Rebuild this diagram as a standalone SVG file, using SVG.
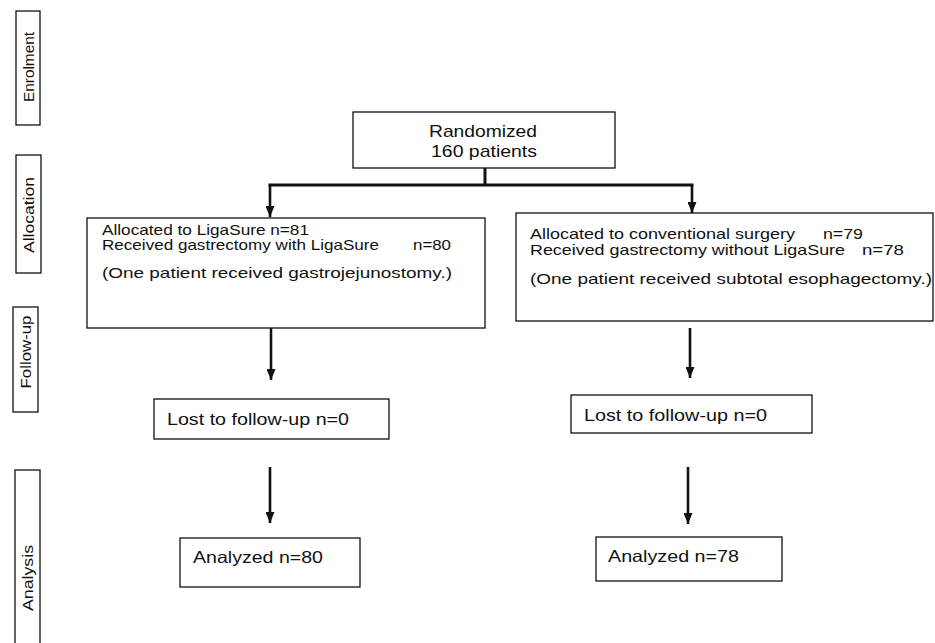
<svg xmlns="http://www.w3.org/2000/svg" width="935" height="643" viewBox="0 0 935 643">
<defs>
<style>
.box{fill:#fff;stroke:#111;stroke-width:1.3}
.t{font-family:"Liberation Sans",Arial,sans-serif;font-size:14.5px;fill:#111}
.mid{font-size:16.5px}
.big{font-size:17px}
.side{font-family:"Liberation Sans",Arial,sans-serif;font-size:15.5px;fill:#111;text-anchor:middle}
.c{stroke:#111;fill:none;stroke-width:2.6}
.cb{stroke:#111;fill:none;stroke-width:3}
</style>
<marker id="ah" markerUnits="userSpaceOnUse" markerWidth="11" markerHeight="9" refX="11" refY="4.5" orient="auto">
<path d="M0,0 L11,4.5 L0,9 z" fill="#111"/>
</marker>
</defs>
<rect width="935" height="643" fill="#fff"/>

<g id="stage-enrolment">
<rect class="box" x="16" y="11" width="24" height="114"/>
<text class="side" transform="translate(34,67) rotate(-90)" textLength="70" lengthAdjust="spacingAndGlyphs">Enrolment</text>
</g>
<g id="stage-allocation">
<rect class="box" x="16" y="155" width="25" height="118"/>
<text class="side" transform="translate(34,215) rotate(-90)" textLength="76" lengthAdjust="spacingAndGlyphs">Allocation</text>
</g>
<g id="stage-followup">
<rect class="box" x="13" y="307" width="25" height="105"/>
<text class="side" transform="translate(31,352) rotate(-90)" textLength="73" lengthAdjust="spacingAndGlyphs">Follow-up</text>
</g>
<g id="stage-analysis">
<rect class="box" x="15" y="470" width="25" height="180"/>
<text class="side" transform="translate(33,578) rotate(-90)" textLength="66" lengthAdjust="spacingAndGlyphs">Analysis</text>
</g>

<g id="randomized">
<rect class="box" x="353" y="112" width="262" height="56"/>
<text class="t big" x="429" y="137" textLength="108" lengthAdjust="spacingAndGlyphs">Randomized</text>
<text class="t big" x="431" y="157" textLength="106" lengthAdjust="spacingAndGlyphs">160 patients</text>
</g>

<g id="alloc-ligasure">
<rect class="box" x="87" y="218" width="398" height="110"/>
<text class="t" x="102" y="235" textLength="207" lengthAdjust="spacingAndGlyphs">Allocated to LigaSure n=81</text>
<text class="t" x="102" y="250" textLength="277" lengthAdjust="spacingAndGlyphs">Received gastrectomy with LigaSure</text>
<text class="t" x="413" y="250" textLength="38" lengthAdjust="spacingAndGlyphs">n=80</text>
<text class="t" x="102" y="278" textLength="350" lengthAdjust="spacingAndGlyphs">(One patient received gastrojejunostomy.)</text>
</g>

<g id="alloc-conventional">
<rect class="box" x="516" y="213" width="417" height="108"/>
<text class="t" x="530" y="239" textLength="265" lengthAdjust="spacingAndGlyphs">Allocated to conventional surgery</text>
<text class="t" x="823" y="239" textLength="40" lengthAdjust="spacingAndGlyphs">n=79</text>
<text class="t" x="530" y="255" textLength="315" lengthAdjust="spacingAndGlyphs">Received gastrectomy without LigaSure</text>
<text class="t" x="862" y="255" textLength="42" lengthAdjust="spacingAndGlyphs">n=78</text>
<text class="t" x="530" y="284" textLength="402" lengthAdjust="spacingAndGlyphs">(One patient received subtotal esophagectomy.)</text>
</g>

<g id="lost-left">
<rect class="box" x="154" y="399" width="235" height="40"/>
<text class="t mid" x="167" y="425" textLength="182" lengthAdjust="spacingAndGlyphs">Lost to follow-up n=0</text>
</g>
<g id="lost-right">
<rect class="box" x="571" y="395" width="241" height="38"/>
<text class="t mid" x="584" y="421" textLength="183" lengthAdjust="spacingAndGlyphs">Lost to follow-up n=0</text>
</g>
<g id="analyzed-left">
<rect class="box" x="180" y="538" width="180" height="49"/>
<text class="t mid" x="193" y="563" textLength="130" lengthAdjust="spacingAndGlyphs">Analyzed n=80</text>
</g>
<g id="analyzed-right">
<rect class="box" x="596" y="537" width="186" height="44"/>
<text class="t mid" x="608" y="562" textLength="131" lengthAdjust="spacingAndGlyphs">Analyzed n=78</text>
</g>

<g id="connectors">
<line class="cb" x1="485" y1="168" x2="485" y2="185"/>
<line class="cb" x1="268.5" y1="185" x2="693.5" y2="185"/>
<line class="c" x1="270" y1="185" x2="270" y2="217" marker-end="url(#ah)"/>
<line class="c" x1="692" y1="185" x2="692" y2="213" marker-end="url(#ah)"/>
<line class="c" x1="271" y1="328" x2="271" y2="380" marker-end="url(#ah)"/>
<line class="c" x1="690" y1="328" x2="690" y2="378" marker-end="url(#ah)"/>
<line class="c" x1="270" y1="467" x2="270" y2="523" marker-end="url(#ah)"/>
<line class="c" x1="688" y1="467" x2="688" y2="524" marker-end="url(#ah)"/>
</g>
</svg>
